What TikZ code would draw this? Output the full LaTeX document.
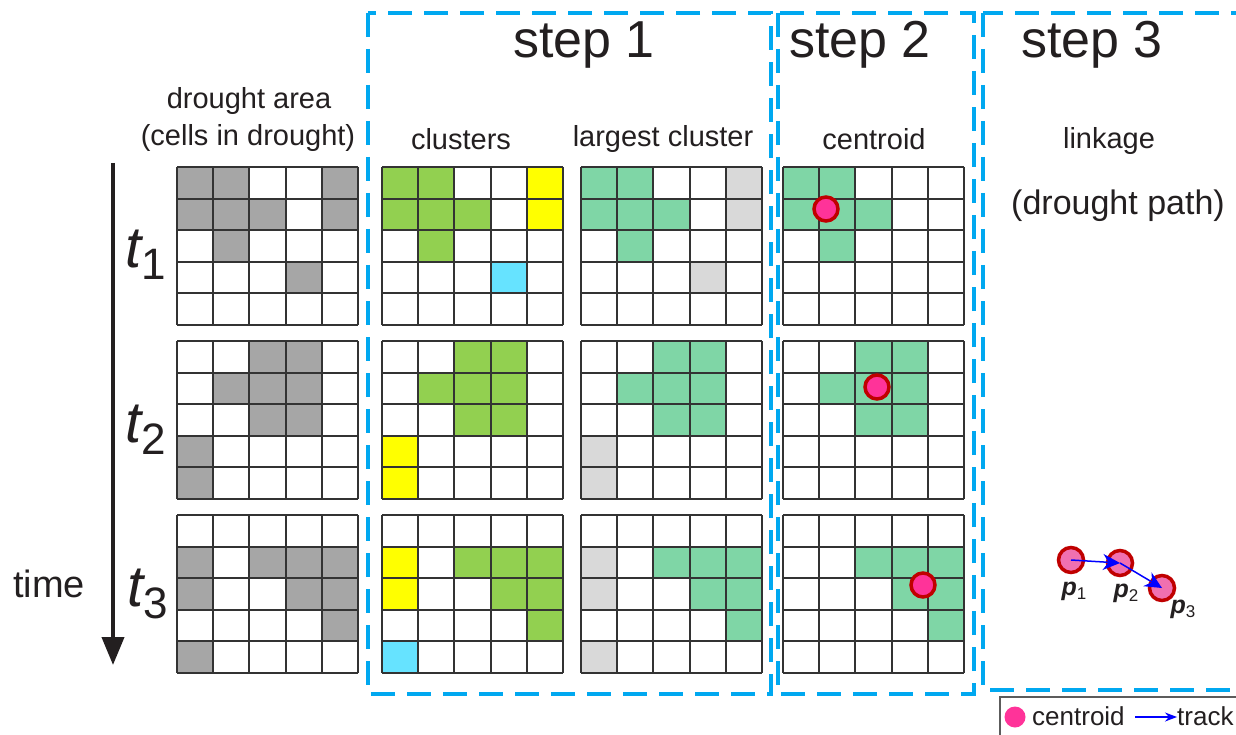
\documentclass[tikz,border=0pt]{standalone}
\usepackage{fontspec}
\setmainfont{Liberation Sans}
\usetikzlibrary{arrows.meta}
\definecolor{txt}{HTML}{231F20}
\definecolor{colG}{HTML}{A6A6A6}
\definecolor{colW}{HTML}{FFFFFF}
\definecolor{colV}{HTML}{92D050}
\definecolor{colY}{HTML}{FFFF00}
\definecolor{colB}{HTML}{66E3FF}
\definecolor{colT}{HTML}{7FD6A6}
\definecolor{colL}{HTML}{D9D9D9}
\definecolor{dashblue}{HTML}{00A8F0}
\definecolor{pinkfill}{HTML}{FF3399}
\definecolor{darkred}{HTML}{C00000}
\definecolor{lightpink}{HTML}{F070B0}
\definecolor{gridcol}{HTML}{333333}
\definecolor{trackblue}{HTML}{0000FF}
\newcommand\cellgrid[3]{%
  \foreach \cc [count=\i from 0] in {#3} {%
    \pgfmathtruncatemacro\rr{\i/5}%
    \pgfmathtruncatemacro\kk{mod(\i,5)}%
    \fill[col\cc] ({#1+\kk*36.2},{#2+\rr*31.6}) rectangle ++(36.2,31.6);
  }%
  \foreach \j in {0,...,5} {%
    \draw[gridline] ({#1+\j*36.2},#2) -- ++(0,158);
    \draw[gridline] (#1,{#2+\j*31.6}) -- ++(181,0);
  }%
}
\newcommand\fsz[1]{\fontsize{#1}{#1}\selectfont}
\newcommand\tlab[1]{{\fsz{58}\itshape t}{\fsz{44}\raisebox{-12pt}{#1}}}
\newcommand\plab[1]{{\fsz{25}\bfseries\itshape p}{\fsz{17}\raisebox{-4pt}{#1}}}
\begin{document}
\begin{tikzpicture}[x=1pt,y=-1pt,
  gridline/.style={draw=gridcol,line width=2pt,line cap=square},
  stepbox/.style={draw=dashblue,line width=4pt,dash pattern=on 24pt off 12pt},
  lbl/.style={text=txt,inner sep=0pt,font=\fsz{29}},
  steplbl/.style={text=txt,inner sep=0pt,font=\fsz{52}},
  centroid/.style={circle,fill=pinkfill,draw=darkred,line width=3.5pt,minimum size=24pt,inner sep=0pt},
  pt/.style={circle,fill=lightpink,draw=darkred,line width=3.5pt,minimum size=25pt,inner sep=0pt},
  track/.style={draw=trackblue,line width=1.5pt,-{Stealth[length=17pt,width=16pt]}},
  legendbox/.style={draw=gridcol!80,line width=1.5pt}
]
\useasboundingbox (0,0) rectangle (1236,735);
\clip (0,0) rectangle (1236,735);
\fill[white] (0,0) rectangle (1236,735);

% row 1
\cellgrid{177}{167}{G,G,W,W,G, G,G,G,W,G, W,G,W,W,W, W,W,W,G,W, W,W,W,W,W}
\cellgrid{382}{167}{V,V,W,W,Y, V,V,V,W,Y, W,V,W,W,W, W,W,W,B,W, W,W,W,W,W}
\cellgrid{581}{167}{T,T,W,W,L, T,T,T,W,L, W,T,W,W,W, W,W,W,L,W, W,W,W,W,W}
\cellgrid{783}{167}{T,T,W,W,W, T,T,T,W,W, W,T,W,W,W, W,W,W,W,W, W,W,W,W,W}
% row 2
\cellgrid{177}{341}{W,W,G,G,W, W,G,G,G,W, W,W,G,G,W, G,W,W,W,W, G,W,W,W,W}
\cellgrid{382}{341}{W,W,V,V,W, W,V,V,V,W, W,W,V,V,W, Y,W,W,W,W, Y,W,W,W,W}
\cellgrid{581}{341}{W,W,T,T,W, W,T,T,T,W, W,W,T,T,W, L,W,W,W,W, L,W,W,W,W}
\cellgrid{783}{341}{W,W,T,T,W, W,T,T,T,W, W,W,T,T,W, W,W,W,W,W, W,W,W,W,W}
% row 3
\cellgrid{177}{515}{W,W,W,W,W, G,W,G,G,G, G,W,W,G,G, W,W,W,W,G, G,W,W,W,W}
\cellgrid{382}{515}{W,W,W,W,W, Y,W,V,V,V, Y,W,W,V,V, W,W,W,W,V, B,W,W,W,W}
\cellgrid{581}{515}{W,W,W,W,W, L,W,T,T,T, L,W,W,T,T, W,W,W,W,T, L,W,W,W,W}
\cellgrid{783}{515}{W,W,W,W,W, W,W,T,T,T, W,W,W,T,T, W,W,W,W,T, W,W,W,W,W}

% step boxes
\draw[stepbox] (368,13) rectangle (771,694);
\draw[stepbox] (778,13) rectangle (974,694);
\draw[stepbox] (983,13) rectangle (1270,690);

% titles
\node[steplbl] (s1) at (584,45) {step 1};
\node[steplbl] (s2) at (860,45) {step 2};
\node[steplbl] (s3) at (1092,45) {step 3};
\node[lbl] (da) at (249,101) {drought area};
\node[lbl] (dc) at (248,138) {(cells in drought)};
\node[lbl] (cl) at (461,139) {clusters};
\node[lbl] (lc) at (663,139) {largest cluster};
\node[lbl] (ce) at (874,139) {centroid};
\node[lbl] (lk) at (1109,141) {linkage};
\node[lbl,font=\fsz{34}] (dp) at (1118,206) {(drought path)};
\node[lbl,font=\fsz{38}] (tm) at (49,584) {time};

% time labels
\node[text=txt,inner sep=0pt,anchor=base west] (t1) at (125,268) {\tlab{1}};
\node[text=txt,inner sep=0pt,anchor=base west] (t2) at (125,442) {\tlab{2}};
\node[text=txt,inner sep=0pt,anchor=base west] (t3) at (127,606) {\tlab{3}};

% time arrow
\coordinate (ts) at (113,163);
\coordinate (te) at (113,665);
\draw[draw=txt,line width=4pt,-{Triangle[length=28pt,width=22pt]}] (ts) -- (te);

% centroids
\node[centroid] (c1) at (826,209) {};
\node[centroid] (c2) at (877,387) {};
\node[centroid] (c3) at (923,585) {};

% linkage
\node[pt] (p1) at (1071,560) {};
\node[pt] (p2) at (1120,563) {};
\node[pt] (p3) at (1162,588) {};
\draw[track] (p1.center) -- (p2.center);
\draw[track] (p2.center) -- (p3.center);
\node[text=txt,inner sep=0pt] (l1) at (1074,591) {\plab{1}};
\node[text=txt,inner sep=0pt] (l2) at (1126,593) {\plab{2}};
\node[text=txt,inner sep=0pt] (l3) at (1183,609) {\plab{3}};

% legend
\draw[legendbox] (1000,697) rectangle (1270,750);
\node[circle,fill=pinkfill,minimum size=21pt,inner sep=0pt] (lgc) at (1015,717) {};
\node[text=txt,inner sep=0pt,anchor=west,font=\fsz{26}] (lgt) at (1032,716) {centroid};
\coordinate (la) at (1135,717);
\coordinate (lb) at (1177,717);
\draw[draw=trackblue,line width=1.5pt,-{Stealth[length=12pt,width=9pt]}] (la) -- (lb);
\node[text=txt,inner sep=0pt,anchor=west,font=\fsz{26}] (lgr) at (1177,716) {track};
\end{tikzpicture}
\end{document}
